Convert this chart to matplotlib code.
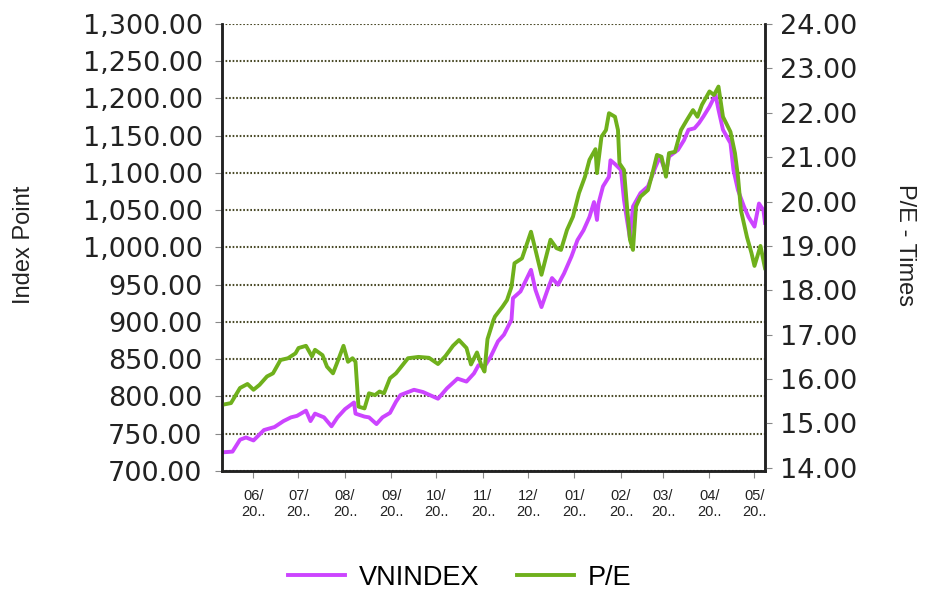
import matplotlib
matplotlib.use('Agg')
import matplotlib.pyplot as plt
import matplotlib.dates as mdates
import pandas as pd
from matplotlib.ticker import FuncFormatter, MultipleLocator

plt.rcParams['font.family'] = ['Liberation Sans', 'DejaVu Sans']

# VNINDEX (index points)
vn_dates = ['2017-05-11', '2017-05-18', '2017-05-23', '2017-05-27', '2017-06-01', '2017-06-04',
            '2017-06-08', '2017-06-15', '2017-06-21', '2017-06-26', '2017-06-30', '2017-07-06',
            '2017-07-09', '2017-07-12', '2017-07-18', '2017-07-23', '2017-07-27', '2017-08-01',
            '2017-08-07', '2017-08-08', '2017-08-14', '2017-08-17', '2017-08-22', '2017-08-26',
            '2017-08-31', '2017-09-04', '2017-09-07', '2017-09-16', '2017-09-22', '2017-10-02',
            '2017-10-08', '2017-10-15', '2017-10-21', '2017-10-26', '2017-10-29', '2017-11-02',
            '2017-11-06', '2017-11-11', '2017-11-15', '2017-11-20', '2017-11-21', '2017-11-26',
            '2017-12-03', '2017-12-06', '2017-12-10', '2017-12-14', '2017-12-17', '2017-12-21',
            '2017-12-25', '2017-12-30', '2018-01-03', '2018-01-07', '2018-01-11', '2018-01-14',
            '2018-01-16', '2018-01-17', '2018-01-20', '2018-01-24', '2018-01-25', '2018-01-28',
            '2018-02-01', '2018-02-03', '2018-02-05', '2018-02-07', '2018-02-09', '2018-02-14',
            '2018-02-19', '2018-02-24', '2018-02-27', '2018-03-03', '2018-03-05', '2018-03-11',
            '2018-03-15', '2018-03-18', '2018-03-22', '2018-03-25', '2018-03-28', '2018-04-01',
            '2018-04-05', '2018-04-07', '2018-04-10', '2018-04-15', '2018-04-17', '2018-04-20',
            '2018-04-24', '2018-04-27', '2018-05-01', '2018-05-04', '2018-05-07', '2018-05-08']
vn_values = [725, 726, 742, 745, 741, 747,
             755, 759, 767, 772, 774, 781,
             767, 777, 772, 760, 772, 783,
             792, 777, 773, 772, 763, 772,
             778, 793, 802, 809, 806, 797,
             811, 824, 820, 831, 842, 840,
             853, 874, 883, 903, 932, 941,
             970, 943, 920, 943, 959, 950,
             965, 988, 1010, 1023, 1041, 1061,
             1037, 1059, 1082, 1095, 1117, 1112,
             1104, 1064, 1037, 1012, 1055, 1073,
             1082, 1108, 1122, 1100, 1122, 1131,
             1144, 1158, 1160, 1167, 1176, 1189,
             1205, 1185, 1158, 1140, 1104, 1077,
             1055, 1041, 1028, 1059, 1050, 1033]

# P/E (times)
pe_dates = ['2017-05-11', '2017-05-17', '2017-05-23', '2017-05-28', '2017-06-01', '2017-06-05',
            '2017-06-10', '2017-06-14', '2017-06-19', '2017-06-24', '2017-06-29', '2017-07-01',
            '2017-07-06', '2017-07-10', '2017-07-12', '2017-07-17', '2017-07-20', '2017-07-24',
            '2017-07-27', '2017-07-31', '2017-08-03', '2017-08-06', '2017-08-08', '2017-08-10',
            '2017-08-14', '2017-08-17', '2017-08-21', '2017-08-24', '2017-08-27', '2017-08-31',
            '2017-09-04', '2017-09-12', '2017-09-19', '2017-09-26', '2017-10-02', '2017-10-07',
            '2017-10-12', '2017-10-16', '2017-10-21', '2017-10-24', '2017-10-28', '2017-10-31',
            '2017-11-02', '2017-11-04', '2017-11-08', '2017-11-09', '2017-11-14', '2017-11-17',
            '2017-11-20', '2017-11-22', '2017-11-27', '2017-12-03', '2017-12-06', '2017-12-10',
            '2017-12-16', '2017-12-20', '2017-12-23', '2017-12-27', '2017-12-31', '2018-01-04',
            '2018-01-08', '2018-01-11', '2018-01-15', '2018-01-16', '2018-01-19', '2018-01-22',
            '2018-01-24', '2018-01-28', '2018-01-30', '2018-01-31', '2018-02-03', '2018-02-05',
            '2018-02-07', '2018-02-09', '2018-02-11', '2018-02-14', '2018-02-19', '2018-02-22',
            '2018-02-25', '2018-02-28', '2018-03-03', '2018-03-05', '2018-03-09', '2018-03-13',
            '2018-03-17', '2018-03-21', '2018-03-24', '2018-03-27', '2018-04-01', '2018-04-04',
            '2018-04-07', '2018-04-10', '2018-04-15', '2018-04-18', '2018-04-20', '2018-04-22',
            '2018-04-26', '2018-04-29', '2018-05-01', '2018-05-05', '2018-05-08']
pe_values = [15.42, 15.46, 15.80, 15.89, 15.76, 15.87,
             16.06, 16.13, 16.43, 16.47, 16.58, 16.70,
             16.75, 16.51, 16.66, 16.54, 16.28, 16.13,
             16.39, 16.75, 16.39, 16.47, 16.39, 15.38,
             15.34, 15.68, 15.64, 15.72, 15.68, 16.02,
             16.13, 16.47, 16.50, 16.48, 16.34, 16.52,
             16.75, 16.88, 16.70, 16.33, 16.60, 16.30,
             16.17, 16.90, 17.33, 17.41, 17.63, 17.78,
             18.08, 18.61, 18.72, 19.32, 18.91, 18.35,
             19.14, 18.95, 18.91, 19.36, 19.66, 20.19,
             20.56, 20.94, 21.18, 20.64, 21.46, 21.61,
             21.99, 21.91, 21.61, 20.86, 20.71, 19.89,
             19.14, 18.91, 19.89, 20.11, 20.26, 20.64,
             21.05, 21.01, 20.56, 21.09, 21.12, 21.61,
             21.84, 22.06, 21.91, 22.18, 22.48, 22.40,
             22.59, 21.91, 21.57, 21.09, 20.56, 19.80,
             19.20, 18.84, 18.55, 19.00, 18.50]

vn_x = pd.to_datetime(vn_dates)
pe_x = pd.to_datetime(pe_dates)

fig = plt.figure(figsize=(9.25, 5.92), dpi=100)
ax = fig.add_axes([0.24, 0.2044, 0.587, 0.7551])
ax2 = ax.twinx()

ax.plot(vn_x, vn_values, color='#cc44ff', lw=2.8, label='VNINDEX')
ax2.plot(pe_x, pe_values, color='#6fb01c', lw=2.8, label='P/E')

ax.set_xlim(pd.Timestamp('2017-05-11'), pd.Timestamp('2018-05-08'))
ax.set_ylim(700, 1300)
ax2.set_ylim(13.93, 24)

ax.yaxis.set_major_locator(MultipleLocator(50))
ax.yaxis.set_major_formatter(FuncFormatter(lambda v, p: '{:,.2f}'.format(v)))
ax2.yaxis.set_major_locator(MultipleLocator(1))
ax2.yaxis.set_major_formatter(FuncFormatter(lambda v, p: '{:.2f}'.format(v)))

ax.xaxis.set_major_locator(mdates.MonthLocator())
ax.xaxis.set_major_formatter(mdates.DateFormatter('%m/\n20..'))

# dotted horizontal grid
ax.grid(axis='y', linestyle=(0, (0.8, 0.9)), color='#4a4a28', lw=1.5)
ax.grid(axis='x', visible=False)

for a in (ax, ax2):
    a.spines['top'].set_visible(False)
    for s in ('left', 'right', 'bottom'):
        a.spines[s].set_color('#222222')
        a.spines[s].set_linewidth(1.8)

ax.tick_params(axis='y', labelsize=19.5, length=5, pad=9, color='#888888', labelcolor='#222222')
ax2.tick_params(axis='y', labelsize=19.5, length=5, pad=6, color='#888888', labelcolor='#222222')
ax.tick_params(axis='x', labelsize=10.5, length=5, pad=8, color='#888888', labelcolor='#222222')
for lab in ax.get_yticklabels() + ax2.get_yticklabels():
    lab.set_fontfamily('DejaVu Sans')

fig.text(24 / 925, 1 - 245 / 592, 'Index Point', rotation=90, fontsize=17,
         color='#222222', ha='center', va='center')
fig.text(905 / 925, 1 - 245 / 592, 'P/E - Times', rotation=270, fontsize=17,
         color='#222222', ha='center', va='center')

h1, l1 = ax.get_legend_handles_labels()
h2, l2 = ax2.get_legend_handles_labels()
fig.legend(h1 + h2, l1 + l2, loc='center', bbox_to_anchor=(0.497, 0.024), ncol=2,
           frameon=False, fontsize=19.5, handlelength=2.1, handletextpad=0.5,
           columnspacing=1.4)

fig.savefig('out.png', dpi=100)
